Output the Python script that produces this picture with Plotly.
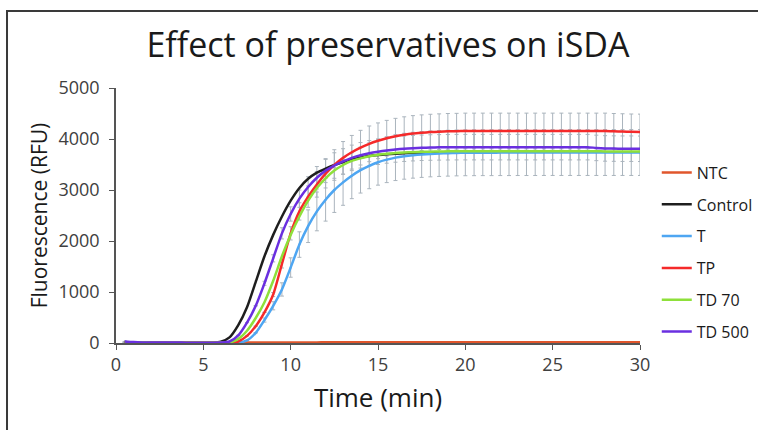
import plotly.graph_objects as go

time_min = [0.5, 1.0, 1.5, 2.0, 2.5, 3.0, 3.5, 4.0, 4.5, 5.0,
            5.5, 6.0, 6.5, 7.0, 7.5, 8.0, 8.5, 9.0, 9.5, 10.0,
            10.5, 11.0, 11.5, 12.0, 12.5, 13.0, 13.5, 14.0, 14.5, 15.0,
            15.5, 16.0, 16.5, 17.0, 17.5, 18.0, 18.5, 19.0, 19.5, 20.0,
            20.5, 21.0, 21.5, 22.0, 22.5, 23.0, 23.5, 24.0, 24.5, 25.0,
            25.5, 26.0, 26.5, 27.0, 27.5, 28.0, 28.5, 29.0, 29.5, 30.0]

ntc = [12, 10, 9, 9, 8, 8, 8, 8, 9, 9,
       9, 10, 10, 10, 11, 11, 11, 12, 12, 12,
       12, 12, 12, 13, 13, 13, 13, 13, 13, 13,
       13, 13, 13, 13, 14, 14, 14, 14, 14, 14,
       14, 14, 14, 14, 14, 14, 14, 14, 14, 14,
       14, 14, 14, 14, 14, 14, 14, 14, 14, 14]

control = [20, 12, 10, 8, 8, 7, 7, 6, 6, 6,
           8, 25, 110, 350, 700, 1200, 1700, 2120, 2480, 2790,
           3040, 3220, 3340, 3420, 3490, 3550, 3600, 3635, 3665, 3685,
           3700, 3712, 3720, 3727, 3732, 3737, 3740, None, None, None,
           None, None, None, None, None, None, None, None, None, None,
           None, None, None, None, None, None, None, None, None, None]

t_only = [10, 8, 7, 6, 6, 6, 5, 5, 5, 5,
          5, 5, 6, 8, 50, 200, 450, 730, 1050, 1480,
          1930, 2290, 2580, 2810, 3000, 3150, 3280, 3390, 3475, 3545,
          3595, 3635, 3662, 3682, 3697, 3708, 3716, 3722, 3727, 3730,
          3731, 3732, 3732, 3733, 3733, 3734, 3734, 3734, 3735, 3735,
          3735, 3735, 3735, 3735, 3735, 3735, 3735, 3735, 3735, 3735]

tp = [10, 8, 7, 6, 6, 5, 5, 5, 5, 5,
      5, 5, 5, 30, 140, 330, 600, 950, 1550, 2150,
      2580, 2870, 3110, 3320, 3490, 3630, 3740, 3830, 3905, 3965,
      4015, 4055, 4085, 4108, 4123, 4135, 4143, 4150, 4153, 4157,
      4157, 4157, 4157, 4157, 4157, 4157, 4157, 4157, 4157, 4157,
      4157, 4157, 4157, 4157, 4157, 4157, 4150, 4145, 4140, 4138]

td70 = [15, 10, 8, 7, 6, 6, 6, 5, 5, 5,
        5, 6, 12, 80, 240, 490, 800, 1220, 1700, 2120,
        2480, 2790, 3040, 3230, 3380, 3490, 3570, 3620, 3660, 3690,
        3710, 3725, 3735, 3742, 3748, 3752, 3755, 3758, 3760, 3760,
        3760, 3760, 3760, 3760, 3760, 3760, 3760, 3760, 3760, 3760,
        3760, 3760, 3760, 3760, 3758, 3757, 3756, 3755, 3755, 3755]

td500 = [30, 18, 12, 10, 9, 8, 8, 7, 7, 7,
         7, 10, 30, 150, 400, 730, 1170, 1660, 2150, 2530,
         2830, 3060, 3240, 3380, 3480, 3560, 3630, 3680, 3720, 3750,
         3775, 3795, 3810, 3820, 3828, 3833, 3836, 3838, 3840, 3840,
         3840, 3840, 3840, 3840, 3840, 3840, 3840, 3840, 3840, 3840,
         3840, 3840, 3840, 3840, 3825, 3815, 3812, 3810, 3810, 3808]

t_err = [0, 0, 0, 0, 0, 0, 0, 0, 0, 0,
         0, 0, 0, 0, 0, 0, 40, 80, 130, 190,
         250, 320, 380, 420, 440, 450, 450, 450, 450, 450,
         450, 450, 450, 450, 450, 450, 450, 450, 450, 450,
         450, 450, 450, 450, 450, 450, 450, 450, 450, 450,
         450, 450, 450, 450, 450, 450, 450, 450, 450, 450]

tp_err = [0, 0, 0, 0, 0, 0, 0, 0, 0, 0,
          0, 0, 0, 0, 0, 0, 0, 40, 80, 130,
          170, 210, 250, 280, 300, 320, 330, 340, 350, 350,
          350, 350, 350, 350, 350, 350, 350, 350, 350, 350,
          350, 350, 350, 350, 350, 350, 350, 350, 350, 350,
          350, 350, 350, 350, 350, 350, 350, 350, 350, 350]

td500_err = [0, 0, 0, 0, 0, 0, 0, 0, 0, 0,
             0, 0, 0, 0, 0, 0, 40, 70, 110, 140,
             170, 200, 220, 235, 250, 250, 250, 250, 250, 250,
             250, 250, 250, 250, 250, 250, 250, 250, 250, 250,
             250, 250, 250, 250, 250, 250, 250, 250, 250, 250,
             250, 250, 250, 250, 250, 250, 250, 250, 250, 250]

series_names = ["NTC", "Control", "T", "TP", "TD 70", "TD 500"]
series_values = [ntc, control, t_only, tp, td70, td500]
series_colors = ["#e0562c", "#1e1e1e", "#4ea6f2", "#f52a2a", "#8ee03a", "#6a2fe0"]

y_ticks = [0, 1000, 2000, 3000, 4000, 5000]
x_ticks = [0, 5, 10, 15, 20, 25, 30]

FONT = "Open Sans"
ERR_COLOR = "#aab4bd"

fig = go.Figure()

# error bars drawn first, beneath the lines
for vals, errs in [(t_only, t_err), (tp, tp_err), (td500, td500_err)]:
    fig.add_trace(go.Scatter(
        x=time_min, y=vals, mode="markers",
        marker=dict(size=2, color="#8a949c"),
        error_y=dict(type="data", array=errs, visible=True,
                     color=ERR_COLOR, thickness=1, width=2),
        showlegend=False, hoverinfo="skip"))

for i, (name, vals, col) in enumerate(zip(series_names, series_values, series_colors)):
    fig.add_trace(go.Scatter(
        x=time_min, y=vals, mode="lines", name=name,
        line=dict(color=col, width=2.5, shape="spline", smoothing=0.6),
        legendgroup=f"g{i}", connectgaps=False))

fig.update_layout(
    width=758, height=430,
    margin=dict(l=116, r=118, t=88, b=87, autoexpand=False),
    paper_bgcolor="white", plot_bgcolor="white",
    title=dict(text="Effect of preservatives on iSDA", x=0.519, xref="paper",
               xanchor="center", y=0.895, yanchor="middle",
               font=dict(family=FONT, size=34, color="#1a1a1a")),
    xaxis=dict(range=[0, 30], tickvals=x_ticks, showgrid=False, zeroline=False,
               showline=True, linecolor="#555555", linewidth=1.5,
               ticks="outside", ticklen=5, tickcolor="#555555",
               tickfont=dict(family=FONT, size=18, color="#404040"),
               title=dict(text="Time (min)", standoff=13,
                          font=dict(family=FONT, size=26, color="#1a1a1a"))),
    yaxis=dict(range=[0, 5000], tickvals=y_ticks, showgrid=False, zeroline=False,
               showline=True, linecolor="#555555", linewidth=1.5,
               ticks="outside", ticklen=5, tickcolor="#555555",
               ticklabelstandoff=6,
               tickfont=dict(family=FONT, size=18, color="#404040"),
               title=dict(text="Fluorescence (RFU)", standoff=5,
                          font=dict(family=FONT, size=21, color="#1a1a1a"))),
    legend=dict(x=1.032, xanchor="left", y=0.735, yanchor="top",
                font=dict(family=FONT, size=16, color="#1a1a1a"),
                itemwidth=30, tracegroupgap=8, bgcolor="rgba(0,0,0,0)"),
    showlegend=True,
)

# outer chart frame (left and top edges visible; extends past the image)
fig.add_shape(type="rect", xref="paper", yref="paper",
              x0=-0.208, y0=-1.0, x1=2.0, y1=1.302,
              line=dict(color="#3a3a3a", width=2), layer="below")

fig.write_html("out.html", config={"displayModeBar": False},
               post_script="document.body.style.margin='0';document.body.style.overflow='hidden';")
